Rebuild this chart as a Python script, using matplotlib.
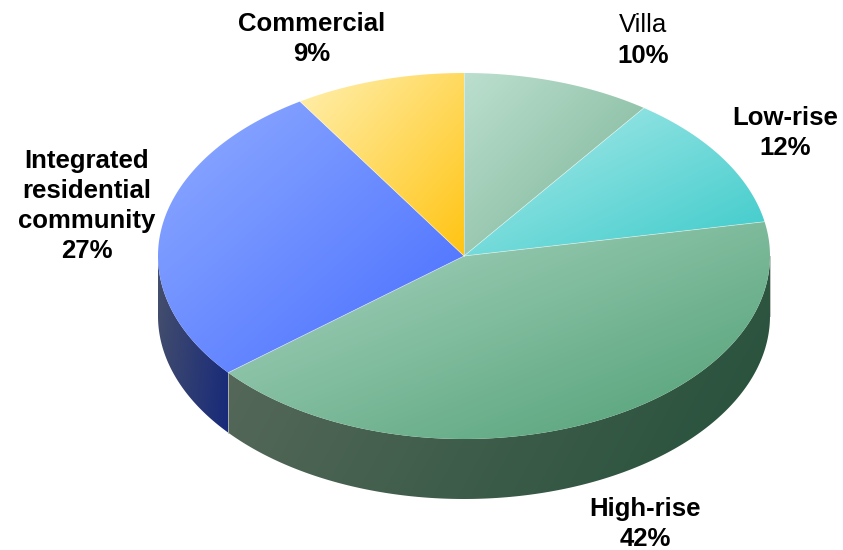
import matplotlib
matplotlib.use('Agg')
import numpy as np
import matplotlib.pyplot as plt
from matplotlib.patches import Polygon
from matplotlib.colors import to_rgb

labels = ['Villa', 'Low-rise', 'High-rise', 'Integrated\nresidential\ncommunity', 'Commercial']
shares = [10, 12, 42, 27, 9]
bold = [False, True, True, True, True]

# top face gradients (light corner -> dark corner)
top_cols = [('#bcdfcf', '#78b293'), ('#acebea', '#3ccaca'), ('#acd6c3', '#4f9f74'),
            ('#90acff', '#466cff'), ('#fff0b0', '#ffc412')]
side_cols = [('#3c5848', '#2f4f3d'), ('#3a5a55', '#2c4f4a'), ('#5a6a5c', '#24503a'),
             ('#454f6c', '#17297a'), ('#7a6a30', '#6a5520')]

# pie geometry in pixels (y grows downwards)
cx, cy, rx, ry, depth = 464, 256, 306, 183, 60
label_pos = [(643, 40), (785, 133), (645, 524), (87, 206), (312, 39)]

fig = plt.figure(figsize=(8.43, 5.5), dpi=100)
ax = fig.add_axes([0, 0, 1, 1])
ax.set_xlim(0, 843)
ax.set_ylim(550, 0)
ax.axis('off')


def ell(t, dy=0):
    return cx + rx * np.sin(t), cy - ry * np.cos(t) + dy


def fill_grad(verts, c1, c2, diag=True):
    verts = np.asarray(verts)
    x0, y0 = verts.min(axis=0)
    x1, y1 = verts.max(axis=0)
    nx, ny = 200, 200
    gx, gy = np.meshgrid(np.linspace(0, 1, nx), np.linspace(0, 1, ny))
    g = (gx + gy) / 2 if diag else gx * 0.8 + gy * 0.2
    a, b = np.array(to_rgb(c1)), np.array(to_rgb(c2))
    img = a[None, None, :] * (1 - g[..., None]) + b[None, None, :] * g[..., None]
    patch = Polygon(verts, closed=True, facecolor='none', edgecolor='none')
    ax.add_patch(patch)
    im = ax.imshow(img, extent=(x0, x1, y1, y0), origin='upper',
                   interpolation='bilinear', zorder=2)
    im.set_clip_path(patch)


bounds = np.concatenate([[0], np.cumsum(shares)]) / 100 * 2 * np.pi

# side faces (front half only: t in [pi/2, 3pi/2])
for i in range(len(shares)):
    a = max(bounds[i], np.pi / 2)
    b = min(bounds[i + 1], 3 * np.pi / 2)
    if b <= a:
        continue
    t = np.linspace(a, b, 200)
    xt, yt = ell(t)
    xb, yb = ell(t[::-1], depth)
    verts = np.column_stack([np.concatenate([xt, xb]), np.concatenate([yt, yb])])
    fill_grad(verts, side_cols[i][0], side_cols[i][1], diag=False)
    ax.plot([xt[0], xt[0]], [yt[0], yt[0] + depth], color='#b8b8b8', lw=0.6, zorder=3)

# top faces
for i in range(len(shares)):
    t = np.linspace(bounds[i], bounds[i + 1], 200)
    xt, yt = ell(t)
    verts = np.column_stack([np.concatenate([[cx], xt]), np.concatenate([[cy], yt])])
    fill_grad(verts, top_cols[i][0], top_cols[i][1])

for i in range(len(shares)):
    x, y = ell(bounds[i])
    ax.plot([cx, x], [cy, y], color='white', lw=0.5, alpha=0.6, zorder=3)

for i, (lab, s) in enumerate(zip(labels, shares)):
    x, y = label_pos[i]
    if bold[i]:
        txt = '%s\n%d%%' % (lab, s)
        ax.text(x, y, txt, ha='center', va='center', fontsize=18.5, fontweight='bold',
                family='Liberation Sans', linespacing=1.33, zorder=5)
    else:
        ax.text(x, y - 15, lab, ha='center', va='center', fontsize=18.5,
                family='Liberation Sans', zorder=5)
        ax.text(x, y + 16, '%d%%' % s, ha='center', va='center', fontsize=18.5,
                fontweight='bold', family='Liberation Sans', zorder=5)

fig.savefig('out.png', dpi=100)
